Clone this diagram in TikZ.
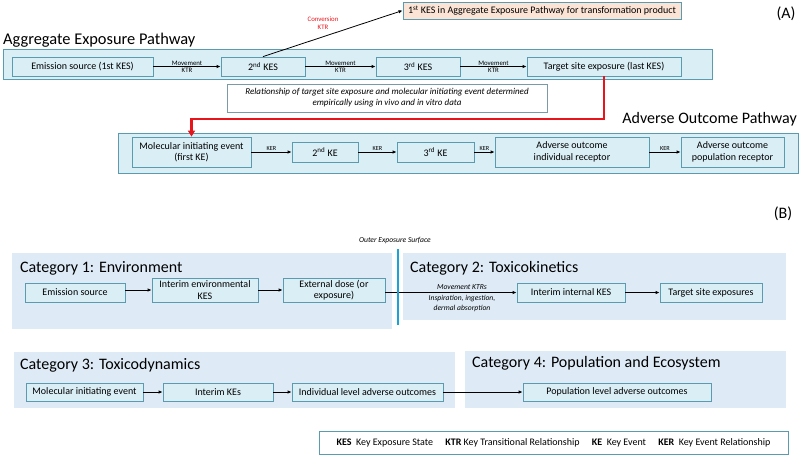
\documentclass[tikz,border=0pt]{standalone}
\usepackage{fontspec}
\setmainfont{Carlito}
\usetikzlibrary{arrows.meta}
\definecolor{contfill}{HTML}{DAEEF5}
\definecolor{catfill}{HTML}{DEEBF7}
\definecolor{bordc}{HTML}{5B9BB0}
\definecolor{peach}{HTML}{FBE4D5}
\definecolor{redl}{HTML}{E8141B}
\definecolor{bluel}{HTML}{1BA3D6}
\definecolor{relbord}{HTML}{7A9AA5}
\tikzset{
  cont/.style={draw=bordc, fill=contfill, line width=0.9pt, inner sep=0pt},
  cat/.style={fill=catfill, draw=none, inner sep=0pt},
  box/.style={draw=bordc, fill=contfill, line width=0.8pt, inner sep=0pt, align=center, font=\fontsize{10}{11.5}\selectfont},
  ttl/.style={font=\fontsize{16}{18}\selectfont, inner sep=0pt},
  arr/.style={-{Latex[length=4pt,width=3.5pt]}, line width=0.8pt, black},
  small/.style={font=\fontsize{6.8}{7.5}\selectfont, inner sep=0.5pt},
  kerl/.style={font=\fontsize{6.2}{7}\selectfont, inner sep=0.8pt},
}
\begin{document}
\begin{tikzpicture}[x=1pt,y=-1pt]
\useasboundingbox (0,0) rectangle (800,456);
% ---------- Part A ----------
\node[cont, minimum width=709pt, minimum height=30pt] (aep) at (357.5,64) {};
\node[ttl, font=\fontsize{16.4}{19}\selectfont, anchor=west] (aeptitle) at (3,40) {Aggregate Exposure Pathway};
\node[font=\fontsize{16}{18}\selectfont] (lblA) at (786,14) {(A)};
\node[box, minimum width=141pt, minimum height=19pt] (e1) at (82.5,66.5) {Emission source (1st KES)};
\node[box, minimum width=84pt, minimum height=19pt] (k2) at (263,66.5) {2\textsuperscript{nd} KES};
\node[box, minimum width=84pt, minimum height=19pt] (k3) at (418,66.5) {3\textsuperscript{rd} KES};
\node[box, minimum width=154pt, minimum height=19pt] (kt) at (604,66.5) {Target site exposure (last KES)};
\node[box, fill=peach, minimum width=278pt, minimum height=17pt] (k1t) at (542,10.5) {1\textsuperscript{st} KES in Aggregate Exposure Pathway for transformation product};
\draw[arr] (e1) -- node[small, above=0.5pt]{Movement} node[small, below=0.5pt]{KTR} (k2);
\draw[arr] (k2) -- node[small, above=0.5pt]{Movement} node[small, below=0.5pt]{KTR} (k3);
\draw[arr] (k3) -- node[small, above=0.5pt]{Movement} node[small, below=0.5pt]{KTR} (kt);
\draw[arr] (k2.north) -- (k1t.west);
\node[small, text=redl, align=center] (conv) at (323,23) {Conversion\\KTR};
\node[draw=relbord, fill=white, line width=0.8pt, minimum width=320pt, minimum height=28pt, align=center, inner sep=0pt,
  font=\fontsize{9}{11}\selectfont\itshape] (rel) at (387,98)
  {Relationship of target site exposure and molecular initiating event determined\\empirically using in vivo and in vitro data};
% AOP
\node[cont, minimum width=680pt, minimum height=40pt] (aop) at (458,153) {};
\node[ttl, font=\fontsize{16}{19}\selectfont, anchor=east] (aoptitle) at (797,119) {Adverse Outcome Pathway};
\node[box, minimum width=119pt, minimum height=30pt] (mie) at (191.5,152) {Molecular initiating event\\(first KE)};
\node[box, minimum width=66pt, minimum height=20pt] (ke2) at (325,152) {2\textsuperscript{nd} KE};
\node[box, minimum width=77pt, minimum height=20pt] (ke3) at (435.5,152) {3\textsuperscript{rd} KE};
\node[box, minimum width=154pt, minimum height=30pt] (aoi) at (572,152) {Adverse outcome\\individual receptor};
\node[box, minimum width=103pt, minimum height=30pt] (aopp) at (732.5,152) {Adverse outcome\\population receptor};
\draw[arr] (mie) -- node[kerl, above]{KER} (ke2);
\draw[arr] (ke2) -- node[kerl, above]{KER} (ke3);
\draw[arr] (ke3) -- node[kerl, above]{KER} (aoi);
\draw[arr] (aoi) -- node[kerl, above]{KER} (aopp);
\coordinate (bend) at (191.5,119);
\draw[redl, line width=2.8pt, -{Triangle[length=6pt,width=7pt]}] (kt.south) |- (bend) -- (mie.north);
% ---------- Part B ----------
\node[font=\fontsize{16}{18}\selectfont] (lblB) at (783,214) {(B)};
\node[cat, minimum width=380pt, minimum height=76pt] (cat1) at (202,291) {};
\node[cat, minimum width=383pt, minimum height=67pt] (cat2) at (594.5,286.5) {};
\node[cat, minimum width=441pt, minimum height=56pt] (cat3) at (234.5,380) {};
\node[cat, minimum width=321pt, minimum height=57pt] (cat4) at (625.5,379.5) {};
\node[ttl, anchor=west] (c1t) at (20,268) {Category 1: Environment};
\node[ttl, anchor=west] (c2t) at (410,268) {Category 2: Toxicokinetics};
\node[ttl, anchor=west] (c3t) at (20,365) {Category 3: Toxicodynamics};
\node[ttl, anchor=west] (c4t) at (472,363) {Category 4: Population and Ecosystem};
\node[font=\fontsize{7.6}{8}\selectfont\itshape] (oes) at (395,240) {Outer Exposure Surface};
\coordinate (blt) at (398,249);
\coordinate (blb) at (398,325);
\node[box, minimum width=100pt, minimum height=19pt] (es) at (75,292.5) {Emission source};
\node[box, minimum width=106pt, minimum height=24pt] (iek) at (205,290) {Interim environmental\\KES};
\node[box, minimum width=102pt, minimum height=24pt] (ed) at (334,290) {External dose (or\\exposure)};
\node[box, minimum width=108pt, minimum height=19pt] (iik) at (571,292.5) {Interim internal KES};
\node[box, minimum width=102pt, minimum height=19pt] (tse) at (711,292.5) {Target site exposures};
\draw[arr] (es.east |- iek) -- (iek);
\draw[arr] (iek) -- (ed);
\draw[arr] (ed.east |- iik) -- (iik);
\draw[bluel, line width=2.6pt] (blt) -- (blb);
\draw[arr] (iik) -- (tse);
\node[font=\fontsize{7.6}{10.5}\selectfont\itshape, align=center, inner sep=0pt] (mktr) at (462,298)
  {Movement KTRs\\[0.5pt]Inspiration, ingestion,\\dermal absorption};
\node[box, minimum width=117pt, minimum height=18pt] (mie2) at (84.5,392) {Molecular initiating event};
\node[box, minimum width=110pt, minimum height=18pt] (ike) at (218,392) {Interim KEs};
\node[box, minimum width=151pt, minimum height=18pt] (ilao) at (367.5,392) {Individual level adverse outcomes};
\node[box, minimum width=188pt, minimum height=18pt] (plao) at (617,392) {Population level adverse outcomes};
\draw[arr] (mie2) -- (ike);
\draw[arr] (ike) -- (ilao);
\draw[arr] (ilao) -- (plao);
\node[draw=bordc, fill=white, line width=0.9pt, minimum width=469pt, minimum height=23pt, inner sep=0pt,
  font=\fontsize{10}{11}\selectfont] (legend) at (553.5,442.5)
  {\textbf{KES}\ \ Key Exposure State\quad\ \textbf{KTR} Key Transitional Relationship\quad\ \textbf{KE}\ \ Key Event\quad\ \textbf{KER}\ \ Key Event Relationship};
\end{tikzpicture}
\end{document}
